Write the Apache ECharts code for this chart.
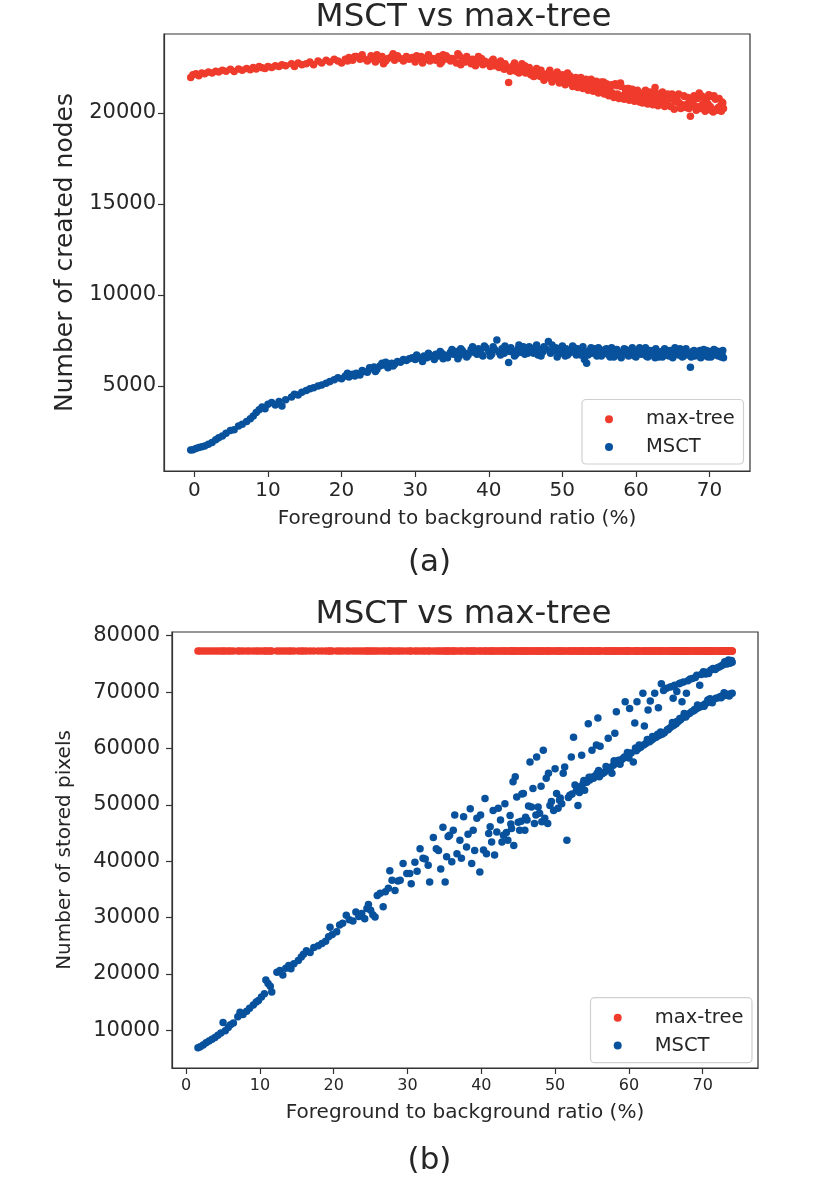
<!DOCTYPE html>
<html>
<head>
<meta charset="utf-8">
<script src="https://cdn.jsdelivr.net/npm/echarts@6/dist/echarts.min.js"></script>
<style>
html,body{margin:0;padding:0;background:#fff;}
#chart{width:822px;height:1188px;}
</style>
</head>
<body>
<div id="chart"></div>
<script>
// ---------- Panel (a): number of created nodes ----------
const aX = [
-0.5,-0.2,0.2,0.6,1.0,1.4,1.9,2.4,2.9,3.3,
3.8,4.3,4.9,5.4,6.0,6.5,7.1,7.6,8.0,8.4,
8.8,9.2,9.6,10.0,10.5,11.0,11.5,11.9,12.4,13.2,
13.6,14.1,14.6,15.2,15.7,16.2,16.8,17.3,17.9,18.4,
19.0,19.5,20.0,20.5,21.0,21.5,22.0,22.5,23.0,23.5,
24.0,24.4,24.8,25.2,25.7,26.3,26.8,27.2,27.6,28.0,
28.4,28.8,29.2,29.6,30.0,30.4,30.8,31.2,31.6,32.0,
32.4,32.8,33.2,33.6,34.0,34.4,34.8,35.2,35.6,36.0,
36.4,36.8,37.2,37.6,38.0,38.4,38.8,39.2,39.6,40.0,
40.4,40.8,41.1,41.4,41.8,42.1,42.4,42.7,43.0,43.3,
43.7,44.0,44.3,44.7,45.0,45.3,45.7,46.0,46.3,46.7,
47.0,47.3,47.7,48.1,48.4,48.8,49.1,49.5,49.8,50.2,
50.5,50.9,51.2,51.6,51.9,52.3,52.6,53.0,53.3,53.7,
54.0,54.4,54.7,55.1,55.4,55.8,56.1,56.5,56.8,57.2,
57.5,57.9,58.2,58.6,58.9,59.3,59.6,60.0,60.3,60.7,
61.0,61.4,61.7,62.1,62.4,62.8,63.1,63.5,63.8,64.2,
64.5,64.9,65.2,65.6,65.9,66.3,66.6,67.0,67.4,67.7,
68.0,68.4,68.7,69.1,69.4,69.8,70.1,70.5,70.8,71.2,
71.5,71.9,59.0,61.2,63.3,65.4,67.2,69.6,71.0,55.6,
50.7,44.5,38.6,33.8,60.5,62.6,66.0,68.9,70.3,71.7,
30.2,31.0,31.8,32.6,33.4,34.2,35.0,35.8,36.2,37.0,
37.8,38.2,39.0,39.4,40.2,40.6,41.6,42.2,42.9,43.5,
44.1,44.9,45.5,46.1,46.5,47.1,47.5,48.3,48.6,49.3,
49.6,50.0,50.4,51.0,51.4,51.8,52.1,52.5,52.8,53.2,
53.5,53.9,54.2,54.6,54.9,55.3,55.7,56.0,56.3,56.7,
57.0,57.4,57.7,58.0,58.4,58.8,59.1,59.5,59.8,60.2,
60.9,61.3,61.6,61.9,62.3,62.7,63.0,63.6,63.9,64.3,
64.7,65.0,65.3,65.8,66.1,66.5,66.8,67.1,67.5,67.9,
68.2,68.6,68.8,69.2,69.5,69.9,70.2,70.6,70.9,71.3,
71.6,71.8,20.8,21.8,22.8,23.8,24.6,25.5,26.0,27.0
];
const aMaxTree = [
21950,22100,22150,22050,22200,22150,22250,22200,22300,22250,
22350,22300,22400,22280,22420,22350,22450,22380,22500,22420,
22550,22480,22450,22550,22500,22600,22550,22650,22600,22700,
22550,22750,22650,22700,22800,22650,22850,22750,22900,22800,
22950,22850,22750,22950,23050,22900,23100,22950,23000,22850,
23150,23000,23200,22950,22700,23000,23100,22900,23150,23000,
22850,23100,22950,23050,22800,23000,23100,22900,23050,22850,
23000,22900,23100,22800,22950,23050,22850,22950,22750,23150,
22900,22800,22950,22700,22850,22750,22900,22650,22800,22700,
22850,22600,22750,22500,22650,22400,22550,21680,22450,22600,
22300,22500,22350,22450,22200,22350,22100,22300,22050,22250,
22000,22150,21950,22200,21900,22100,21850,22000,21750,21950,
21700,21900,21650,21850,21600,21800,21550,21700,21500,21650,
21400,21600,21350,21500,21250,21450,21200,21400,21100,21600,
21050,21650,20950,21200,20900,21100,20850,21050,20800,21000,
20750,20950,20700,20900,20650,20850,20600,21000,20700,20550,
20750,21050,20200,20700,20550,20450,20900,20500,19820,20600,
20400,20800,20350,20500,20100,20500,20350,20050,20750,20300,
20400,20250,21350,21200,20950,20900,20250,20800,20150,21700,
22200,22700,23100,23200,20600,21400,20300,20950,20900,20600,
23150,22750,23200,22950,22700,23150,23000,23250,22650,23100,
22950,22600,23000,22850,22550,22950,22850,22700,22300,22750,
22200,22600,22500,22000,22450,22350,21800,22350,21700,22250,
21650,22100,21550,22050,21450,21950,21400,21950,21350,21850,
21250,21850,21200,21750,21100,21700,21050,21600,20950,21550,
20850,21500,20800,21450,20750,21350,20700,21300,20650,21250,
20550,21250,20500,21150,20450,21100,20400,21150,20350,21050,
20350,20950,20600,21050,20250,20950,20300,20850,20350,20950,
20150,21100,20250,20850,20400,21000,20150,20950,20200,20800,
20100,20550,22850,23100,23200,22950,22800,23100,22850,23250
];
const aMSCT = [
1480,1500,1560,1620,1660,1700,1800,1900,2050,2150,
2250,2400,2550,2600,2800,2900,3050,3200,3350,3550,
3700,3850,3750,4000,4100,3950,4150,3900,4250,4400,
4550,4500,4650,4750,4850,4900,5000,5050,5150,5250,
5350,5450,5400,5550,5500,5650,5700,5600,5800,5750,
5950,6050,5900,6100,6150,6000,6250,6200,6350,6300,
6450,6400,6500,6550,6450,6600,6500,6650,6550,6700,
6600,6750,6650,6800,6700,6550,6850,6750,6900,6650,
6950,6800,6700,7000,6850,6750,6950,6650,7100,6900,
6750,7000,7530,6850,7050,6800,6950,6285,7100,6900,
6750,7050,6850,7150,6950,6800,7050,6900,7100,6700,
7000,6850,7050,7440,6800,6950,7100,6750,6950,6850,
7050,6800,6950,7100,6700,6950,6850,6450,6250,6950,
6800,7050,6650,6900,6750,7000,6850,6600,6950,6750,
6900,6650,6850,7000,6700,6950,6800,6600,6900,6750,
6950,6650,6850,6700,6950,6800,6600,6900,6750,6950,
6650,6850,6700,6950,6800,6600,6900,6750,6030,6900,
6650,6850,6950,6700,6850,6600,6900,6750,6950,6650,
6800,6550,6650,6900,6700,6850,6700,6950,6750,6800,
6700,6950,7050,6500,7100,6550,7050,6600,6800,6700,
6700,6350,6800,6450,6900,6600,7000,6500,7050,6600,
7150,6850,6750,7200,6650,7150,6700,7200,6900,6650,
7250,6750,7150,6800,7250,6650,7150,6900,7250,6600,
7050,7200,6650,6950,7200,6800,7050,6700,7150,6850,
6700,7100,6900,6750,7100,6650,6950,7050,6700,7100,
6600,7000,6800,6550,7050,6900,6750,7100,6650,6950,
6800,7100,6600,6950,6750,7050,6850,6600,7050,6700,
6950,6550,7100,6700,6900,6650,7050,6800,6600,6950,
6750,6900,6550,7000,6700,6850,6600,7000,6700,6900,
6600,6950,5700,5550,5850,6000,5800,6250,6300,6100
];
const aXTicks = [0, 10, 20, 30, 40, 50, 60, 70];
const aYTicks = [5000, 10000, 15000, 20000];

// ---------- Panel (b): number of stored pixels ----------
const bX = [
1.6,1.9,2.3,2.7,3.1,3.5,3.9,4.3,4.7,5.0,
5.3,5.7,6.0,6.4,7.0,7.3,7.7,8.2,8.6,9.1,
9.5,9.8,10.2,10.6,10.8,11.1,11.4,11.6,12.3,12.7,
13.1,13.5,13.9,14.2,14.6,15.2,15.6,15.9,16.3,16.8,
17.3,17.9,18.4,18.9,19.3,19.5,19.8,20.4,20.8,21.2,
21.7,22.1,22.6,23.0,23.4,23.8,24.2,24.5,24.7,25.0,
25.3,25.6,25.9,26.3,26.7,27.0,27.4,27.6,27.9,28.3,
28.7,29.0,29.4,29.9,30.3,30.5,31.0,31.3,31.7,32.1,
32.4,32.8,33.0,33.5,33.9,34.2,34.5,34.8,35.1,35.3,
35.5,35.7,36.0,36.2,36.4,36.7,37.1,37.3,37.6,38.0,
38.2,38.5,38.7,38.9,39.1,39.4,39.8,39.9,40.3,40.5,
40.7,41.0,41.2,41.4,41.6,41.8,42.1,42.3,42.6,42.8,
43.2,43.4,43.6,43.9,44.1,44.3,44.4,44.6,44.8,45.0,
45.2,45.5,45.7,45.9,46.2,46.4,46.6,46.8,47.0,47.2,
47.5,47.7,47.9,48.1,48.4,48.6,48.8,49.0,49.1,49.3,
49.5,49.8,50.0,50.2,50.4,50.7,50.9,51.1,51.3,51.6,
51.8,52.0,52.2,52.5,52.7,52.9,53.1,53.4,53.6,53.8,
54.0,54.3,54.5,54.7,55.0,55.2,55.4,55.6,55.8,56.0,
56.1,56.4,56.7,57.0,57.2,57.4,57.7,57.9,58.1,58.3,
58.5,58.8,59.0,59.2,59.5,59.7,59.9,60.1,60.3,60.6,
60.8,61.0,61.1,61.3,61.6,61.9,62.0,62.1,62.3,62.6,
62.8,62.9,63.1,63.4,63.5,63.7,64.0,64.1,64.4,64.5,
64.8,65.1,65.2,65.5,65.6,65.8,66.0,66.1,66.2,66.4,
66.7,66.8,67.0,67.2,67.3,67.4,67.6,67.8,67.9,68.0,
68.2,68.3,68.5,68.8,69.0,69.1,69.2,69.4,69.6,69.7,
70.0,70.1,70.3,70.4,70.6,70.8,70.9,71.1,71.2,71.4,
71.5,71.8,72.0,72.1,72.3,72.4,72.6,72.7,73.0,73.0,
73.3,73.3,73.5,73.7,73.8,74.0,74.0,46.0,48.2,50.6,
56.9,58.0,59.4,60.9,62.5,64.3,65.9,67.5,69.3,71.0,
72.9,55.9,54.9,53.9,53.3,52.3,47.4,45.4,44.0,43.0,
57.5,58.6,59.8,61.4,62.7,63.9,65.3,66.5,67.7,68.9,
70.2,71.3,72.5,73.6,60.0,63.2,66.9,70.7,54.6,55.7,
65.9,67.0,68.6,70.5,71.7,72.8,73.9,69.8,66.5,64.7
];
const bMSCT = [
6900,7100,7400,7800,8100,8400,8700,9100,9500,11400,
9900,10500,11000,11300,12400,13200,12800,13400,13900,14500,
15000,15300,15900,16500,18900,18300,17800,16800,20300,20600,
19800,21000,21500,20900,21800,22400,23000,23500,24100,23800,
24700,25000,25400,25800,26600,28300,27000,27500,28700,29000,
30400,29600,29400,31000,30200,30700,29800,31600,32300,31300,
30500,30100,33900,34300,31900,34600,35200,38300,36600,34800,
36500,36600,39600,37800,37800,36000,39800,38200,42200,40500,
40400,39300,36300,44200,42200,41900,38600,46000,36300,40800,
44400,44600,39900,45500,48200,41300,43700,40500,47900,42500,
44800,49300,39600,45500,41900,47600,38100,48200,42000,51100,
41300,44900,46100,43400,49000,41100,45200,49400,47300,43400,
50200,45100,43700,48100,45800,54100,42800,55000,51400,46900,
45500,51900,52000,45500,47300,49800,57600,49600,52900,46700,
58500,49600,48500,53300,59700,47600,54700,46700,55600,49900,
50600,49000,56400,52000,49400,51200,50200,55600,56700,43700,
51300,51700,58500,62000,53500,52600,49900,53200,58800,53800,
52600,54000,64400,54400,59700,54700,55100,60600,65400,55000,
60400,55500,55800,56200,61800,56600,55600,57000,62700,66500,
57400,57200,58000,58200,68300,58600,58800,67100,59200,57600,
64500,59600,68300,60000,60200,69800,60600,64000,60900,66800,
61200,68400,61500,61800,69800,62000,67200,62300,71500,62500,
62800,70700,63300,63600,70900,63900,68900,64100,71200,64400,
64800,71500,65100,68300,65500,71800,65700,69800,66000,72000,
66200,72300,66500,66700,72600,67000,73000,67200,71200,67400,
67600,73600,67900,73200,68100,73300,68300,73900,68500,74200,
68700,68900,74300,69000,74500,69200,74700,69300,75400,69400,
69600,75000,75700,75100,69700,75300,69800,47800,47000,50800,
56800,57800,58500,60100,61600,62900,64600,66200,67700,68800,
69900,56100,54900,54300,52200,51900,48200,47100,46600,44600,
56400,57900,59300,60600,61500,62500,63300,64800,65600,66900,
67500,68100,69000,69300,58300,62100,65300,68600,54900,55600,
71000,71600,72400,73500,74000,74900,75600,73100,70100,70300
];
const bMaxTree = [
77300,77300,77300,77300,77300,77300,77300,77300,77300,77300,
77300,77300,77300,77300,77300,77300,77300,77300,77300,77300,
77300,77300,77300,77300,77300,77300,77300,77300,77300,77300,
77300,77300,77300,77300,77300,77300,77300,77300,77300,77300,
77300,77300,77300,77300,77300,77300,77300,77300,77300,77300,
77300,77300,77300,77300,77300,77300,77300,77300,77300,77300,
77300,77300,77300,77300,77300,77300,77300,77300,77300,77300,
77300,77300,77300,77300,77300,77300,77300,77300,77300,77300,
77300,77300,77300,77300,77300,77300,77300,77300,77300,77300,
77300,77300,77300,77300,77300,77300,77300,77300,77300,77300,
77300,77300,77300,77300,77300,77300,77300,77300,77300,77300,
77300,77300,77300,77300,77300,77300,77300,77300,77300,77300,
77300,77300,77300,77300,77300,77300,77300,77300,77300,77300,
77300,77300,77300,77300,77300,77300,77300,77300,77300,77300,
77300,77300,77300,77300,77300,77300,77300,77300,77300,77300,
77300,77300,77300,77300,77300,77300,77300,77300,77300,77300,
77300,77300,77300,77300,77300,77300,77300,77300,77300,77300,
77300,77300,77300,77300,77300,77300,77300,77300,77300,77300,
77300,77300,77300,77300,77300,77300,77300,77300,77300,77300,
77300,77300,77300,77300,77300,77300,77300,77300,77300,77300,
77300,77300,77300,77300,77300,77300,77300,77300,77300,77300,
77300,77300,77300,77300,77300,77300,77300,77300,77300,77300,
77300,77300,77300,77300,77300,77300,77300,77300,77300,77300,
77300,77300,77300,77300,77300,77300,77300,77300,77300,77300,
77300,77300,77300,77300,77300,77300,77300,77300,77300,77300,
77300,77300,77300,77300,77300,77300,77300,77300,77300,77300,
77300,77300,77300,77300,77300,77300,77300,77300,77300,77300,
77300,77300,77300,77300,77300,77300,77300,77300,77300,77300,
77300,77300,77300,77300,77300,77300,77300,77300,77300,77300,
77300,77300,77300,77300,77300,77300,77300,77300,77300,77300,
77300,77300,77300,77300,77300,77300,77300,77300,77300,77300,
77300,77300,77300,77300,77300,77300,77300,77300,77300,77300,
77300,77300,77300,77300,77300,77300,77300,77300,77300,77300
];
const bXTicks = [0, 10, 20, 30, 40, 50, 60, 70];
const bYTicks = [10000, 20000, 30000, 40000, 50000, 60000, 70000, 80000];

const seriesNames = ['max-tree', 'MSCT'];
const titleText = 'MSCT vs max-tree';
const xName = 'Foreground to background ratio (%)';
const yNameA = 'Number of created nodes';
const yNameB = 'Number of stored pixels';
const captions = ['(a)', '(b)'];

// ---------- styling ----------
const RED = '#ef3b2c', BLUE = '#08519c';
const FONT = 'DejaVu Sans';
const TXT = '#262626';
const SPINE = '#333333';

function zip(xs, ys) {
  const n = Math.min(xs.length, ys.length);
  const out = [];
  for (let i = 0; i < n; i++) out.push([xs[i], ys[i]]);
  return out;
}

function xAxisCfg(gi, min, max, ticks, fs, margin, nameGap) {
  return {
    gridIndex: gi, type: 'value', min: min, max: max,
    axisLine: { show: true, onZero: false, lineStyle: { color: SPINE, width: 1.2 } },
    axisTick: { show: true, length: 6, customValues: ticks, lineStyle: { color: SPINE, width: 1.2 } },
    axisLabel: { customValues: ticks, fontSize: fs, color: TXT, fontFamily: FONT, margin: margin, formatter: v => String(v) },
    splitLine: { show: false },
    name: xName, nameLocation: 'middle', nameGap: nameGap,
    nameTextStyle: { fontSize: 20, color: TXT, fontFamily: FONT }
  };
}
function yAxisCfg(gi, min, max, ticks, fs, margin, name, nfs, nameGap) {
  return {
    gridIndex: gi, type: 'value', min: min, max: max,
    axisLine: { show: true, onZero: false, lineStyle: { color: SPINE, width: 1.2 } },
    axisTick: { show: true, length: 6, customValues: ticks, lineStyle: { color: SPINE, width: 1.2 } },
    axisLabel: { customValues: ticks, fontSize: fs, color: TXT, fontFamily: FONT, margin: margin, formatter: v => String(v) },
    splitLine: { show: false },
    name: name, nameLocation: 'middle', nameGap: nameGap,
    nameTextStyle: { fontSize: nfs, color: TXT, fontFamily: FONT }
  };
}
function legendCfg(left, top) {
  return {
    data: seriesNames, orient: 'vertical', left: left, top: top, z: 20,
    padding: 0, itemGap: 7.8, itemWidth: 8, itemHeight: 8,
    icon: 'circle', selectedMode: false,
    textStyle: { fontSize: 19.5, color: TXT, fontFamily: FONT, padding: [0, 0, 0, 28] }
  };
}

const chart = echarts.init(document.getElementById('chart'), null, { renderer: 'canvas' });
const option = {
  backgroundColor: '#ffffff',
  animation: false,
  grid: [
    { left: 164, top: 34, width: 586, height: 437, show: true, borderColor: SPINE, borderWidth: 1.2, backgroundColor: 'transparent' },
    { left: 172, top: 632, width: 586, height: 436, show: true, borderColor: SPINE, borderWidth: 1.2, backgroundColor: 'transparent' }
  ],
  xAxis: [
    xAxisCfg(0, -4.13, 75.5, aXTicks, 20, 10, 38),
    xAxisCfg(1, -1.92, 77.5, bXTicks, 16, 10, 35)
  ],
  yAxis: [
    yAxisCfg(0, 330, 24340, aYTicks, 21, 8, yNameA, 25, 84),
    yAxisCfg(1, 3310, 80660, bYTicks, 21, 12, yNameB, 20, 97)
  ],
  legend: [legendCfg(605, 409.3), legendCfg(613.7, 1007.7)],
  series: [
    { type: 'scatter', name: seriesNames[0], xAxisIndex: 0, yAxisIndex: 0, data: zip(aX, aMaxTree), symbolSize: 7.5, itemStyle: { color: RED, opacity: 1 }, z: 2 },
    { type: 'scatter', name: seriesNames[1], xAxisIndex: 0, yAxisIndex: 0, data: zip(aX, aMSCT), symbolSize: 7.5, itemStyle: { color: BLUE, opacity: 1 }, z: 3 },
    { type: 'scatter', name: seriesNames[0], xAxisIndex: 1, yAxisIndex: 1, data: zip(bX, bMaxTree), symbolSize: 7.5, itemStyle: { color: RED, opacity: 1 }, z: 2 },
    { type: 'scatter', name: seriesNames[1], xAxisIndex: 1, yAxisIndex: 1, data: zip(bX, bMSCT), symbolSize: 7.5, itemStyle: { color: BLUE, opacity: 1 }, z: 3 }
  ],
  graphic: [
    { type: 'rect', shape: { x: 582, y: 399.5, width: 161.5, height: 64.5, r: 4 }, style: { fill: 'rgba(255,255,255,0.8)', stroke: '#d0d0d0', lineWidth: 1.2 }, z: 10 },
    { type: 'rect', shape: { x: 590.5, y: 997.7, width: 161.5, height: 65, r: 4 }, style: { fill: 'rgba(255,255,255,0.8)', stroke: '#d0d0d0', lineWidth: 1.2 }, z: 10 },
    { type: 'text', x: 463.6, y: 17.5, style: { text: titleText, font: '32.5px "DejaVu Sans"', fill: TXT, textAlign: 'center', textVerticalAlign: 'middle' }, z: 10 },
    { type: 'text', x: 463.6, y: 614.5, style: { text: titleText, font: '32.5px "DejaVu Sans"', fill: TXT, textAlign: 'center', textVerticalAlign: 'middle' }, z: 10 },
    { type: 'text', x: 429.6, y: 563, style: { text: captions[0], font: '31px "DejaVu Sans"', fill: TXT, textAlign: 'center', textVerticalAlign: 'middle' }, z: 10 },
    { type: 'text', x: 429.5, y: 1161, style: { text: captions[1], font: '31px "DejaVu Sans"', fill: TXT, textAlign: 'center', textVerticalAlign: 'middle' }, z: 10 }
  ]
};
chart.setOption(option);
</script>
</body>
</html>
